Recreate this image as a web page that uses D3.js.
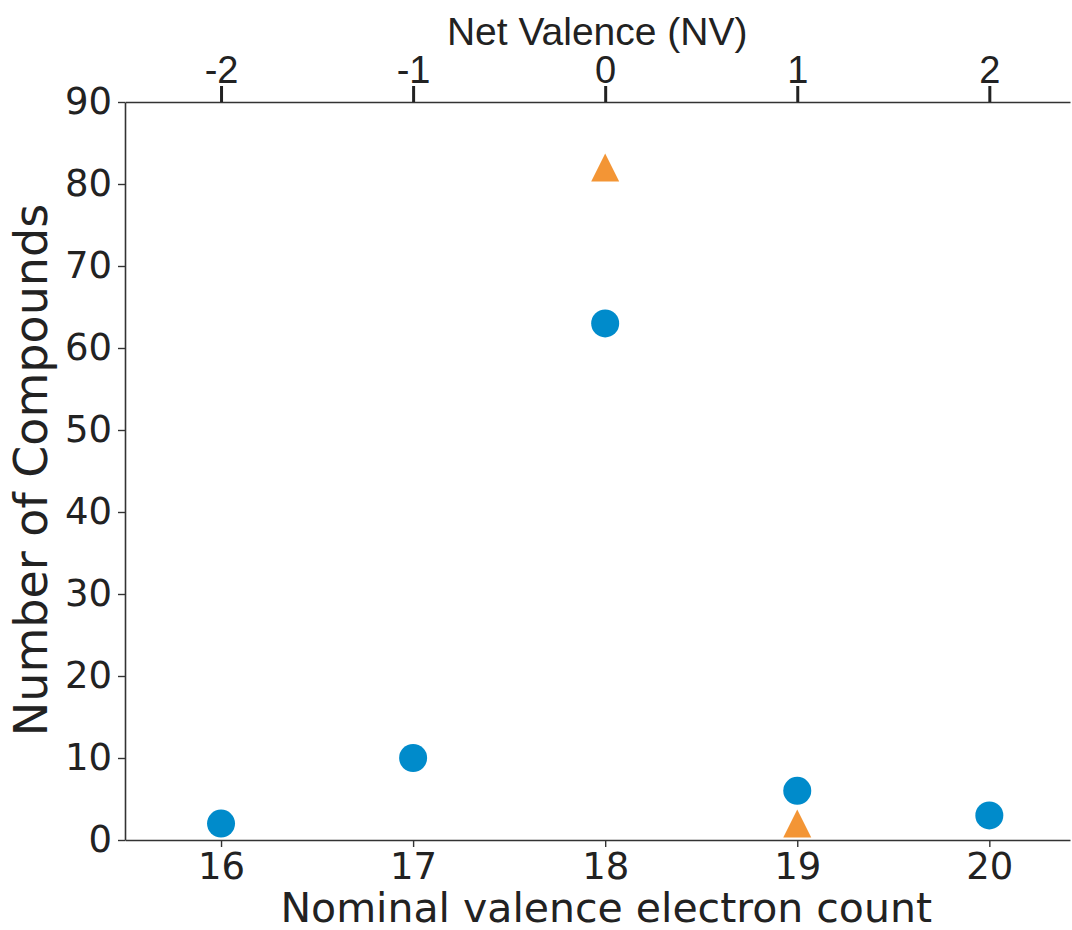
<!DOCTYPE html>
<html>
<head>
<meta charset="utf-8">
<script src="https://cdn.jsdelivr.net/npm/d3@7"></script>
<style>
  body { margin: 0; background: #fff; }
  svg { display: block; }
</style>
</head>
<body>
<div id="chart"></div>
<script>
// values
const electronCounts = [16, 17, 18, 19, 20];
const circleCounts = [2, 10, 63, 6, 3];
const triangleCounts = [{ x: 18, y: 82 }, { x: 19, y: 2 }];
const nvTicks = [-2, -1, 0, 1, 2];
const yTicks = [0, 10, 20, 30, 40, 50, 60, 70, 80, 90];

const svgWidth = 1072;
const svgHeight = 930;
const margin = { top: 102, right: 2, bottom: 90, left: 125 };
const width = svgWidth - margin.left - margin.right;
const height = svgHeight - margin.top - margin.bottom;

const svg = d3.select("#chart")
  .append("svg")
  .attr("width", svgWidth)
  .attr("height", svgHeight)
  .append("g")
  .attr("transform", "translate(" + margin.left + "," + margin.top + ")");

const xScale = d3.scaleLinear()
  .domain([15.5, 20.42])
  .range([0, width]);

const yScale = d3.scaleLinear()
  .domain([0, 90])
  .range([height, 0]);

// top axis: net valence = count - 18
const nvScale = d3.scaleLinear()
  .domain([15.5 - 18, 20.42 - 18])
  .range([0, width]);

const textColor = "#222";
const lineColor = "#333";

const xAxis = d3.axisBottom(xScale)
  .tickValues(electronCounts)
  .tickFormat(function(d) { return String(d); })
  .tickSizeInner(7)
  .tickSizeOuter(0)
  .tickPadding(6);

const gx = svg.append("g")
  .attr("transform", "translate(0," + height + ")")
  .call(xAxis);

const yAxis = d3.axisLeft(yScale)
  .tickValues(yTicks)
  .tickSizeInner(7)
  .tickSizeOuter(0)
  .tickPadding(6);

const gy = svg.append("g").call(yAxis);

const topAxis = d3.axisTop(nvScale)
  .tickValues(nvTicks)
  .tickFormat(function(d) { return String(d); })
  .tickSizeInner(16)
  .tickSizeOuter(0)
  .tickPadding(3);

const gt = svg.append("g").call(topAxis);

[gx, gy].forEach(function(g) {
  g.select(".domain").attr("stroke", lineColor).attr("stroke-width", 1.6);
  g.selectAll(".tick line").attr("stroke", lineColor).attr("stroke-width", 1.4);
  g.selectAll(".tick text")
    .attr("fill", textColor)
    .style("font-family", "DejaVu Sans")
    .style("font-size", "37px");
});

gt.select(".domain").attr("stroke", lineColor).attr("stroke-width", 1.6);
gt.selectAll(".tick line").attr("stroke", "#222").attr("stroke-width", 3);
gt.selectAll(".tick text")
  .attr("fill", textColor)
  .style("font-family", "Liberation Sans, Arial")
  .style("font-size", "38px");

// axis titles
svg.append("text")
  .attr("x", xScale(18) + 1)
  .attr("y", height + 82)
  .style("text-anchor", "middle")
  .style("font-family", "DejaVu Sans")
  .style("font-size", "41px")
  .attr("fill", textColor)
  .text("Nominal valence electron count");

svg.append("text")
  .attr("transform", "rotate(-90)")
  .attr("x", -(yScale(45) - 1))
  .attr("y", -78)
  .style("text-anchor", "middle")
  .style("font-family", "DejaVu Sans")
  .style("font-size", "46px")
  .attr("fill", textColor)
  .text("Number of Compounds");

svg.append("text")
  .attr("x", xScale(18) - 8)
  .attr("y", -57)
  .style("text-anchor", "middle")
  .style("font-family", "Liberation Sans, Arial")
  .style("font-size", "39px")
  .attr("fill", textColor)
  .text("Net Valence (NV)");

// markers
svg.selectAll("circle.pt")
  .data(electronCounts.map(function(c, i) { return { x: c, y: circleCounts[i] }; }))
  .enter()
  .append("circle")
  .attr("class", "pt")
  .attr("cx", function(d) { return xScale(d.x); })
  .attr("cy", function(d) { return yScale(d.y); })
  .attr("r", 14)
  .style("fill", "#008bcb");

const tri = 14;
svg.selectAll("path.tri")
  .data(triangleCounts)
  .enter()
  .append("path")
  .attr("class", "tri")
  .attr("transform", function(d) {
    return "translate(" + xScale(d.x) + "," + yScale(d.y) + ")";
  })
  .attr("d", "M0," + (-tri) + "L" + tri + "," + tri + "L" + (-tri) + "," + tri + "Z")
  .style("fill", "#f39535");
</script>
</body>
</html>
